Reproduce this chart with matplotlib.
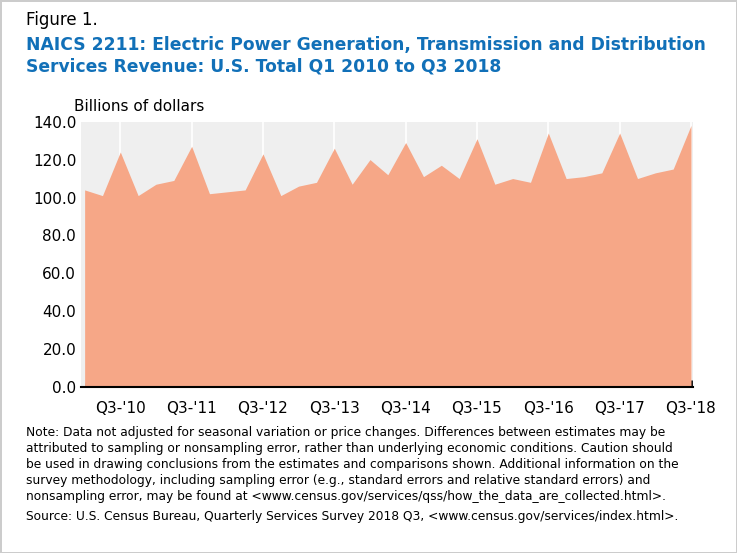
import numpy as np
import matplotlib.pyplot as plt

quarters = [f"Q{q}-'{y % 100:02d}" for y in range(2010, 2019) for q in range(1, 5)][:35]
revenue = [104, 101, 124, 101, 107, 109, 127, 102, 103, 104, 123, 101,
           106, 108, 126, 107, 120, 112, 129, 111, 117, 110, 131, 107,
           110, 108, 134, 110, 111, 113, 134, 110, 113, 115, 138]
yticks = [0, 20, 40, 60, 80, 100, 120, 140]

fig = plt.figure(figsize=(7.37, 5.53), dpi=100)
fig.patch.set_edgecolor('#cccccc')
fig.patch.set_linewidth(2)
ax = fig.add_axes([0.11, 0.30, 0.83, 0.48])

x = np.arange(len(revenue))
ax.set_facecolor('#efefef')
ax.fill_between(x, revenue, color='#f6a787', lw=0, zorder=2)
q3 = [i for i, q in enumerate(quarters) if q.startswith('Q3')]
for i in q3:
    ax.axvline(i, color='white', lw=1.2, zorder=1)
ax.set_xlim(-0.2, len(revenue) - 0.9)
ax.set_ylim(0, 140)
ax.set_yticks(yticks)
ax.set_yticklabels([f"{v:.1f}" for v in yticks], fontsize=11)
ax.set_xticks(q3)
ax.set_xticklabels([quarters[i] for i in q3], fontsize=11)
ax.set_xticks(x, minor=True)
ax.tick_params(axis='x', which='major', length=5, width=2, color='black', direction='in', pad=10)
ax.tick_params(axis='x', which='minor', length=3, color='#999999', direction='in')
ax.tick_params(axis='y', length=0)
for s in ['top', 'right', 'left']:
    ax.spines[s].set_visible(False)
ax.spines['bottom'].set_color('black')
ax.spines['bottom'].set_linewidth(1.5)

fig.text(0.035, 0.955, "Figure 1.", fontsize=12)
fig.text(0.035, 0.87, "NAICS 2211: Electric Power Generation, Transmission and Distribution\n"
         "Services Revenue: U.S. Total Q1 2010 to Q3 2018",
         fontsize=12.3, fontweight='bold', color='#1170b8', linespacing=1.3)
fig.text(0.1, 0.80, "Billions of dollars", fontsize=11)
fig.text(0.035, 0.095,
         "Note: Data not adjusted for seasonal variation or price changes. Differences between estimates may be\n"
         "attributed to sampling or nonsampling error, rather than underlying economic conditions. Caution should\n"
         "be used in drawing conclusions from the estimates and comparisons shown. Additional information on the\n"
         "survey methodology, including sampling error (e.g., standard errors and relative standard errors) and\n"
         "nonsampling error, may be found at <www.census.gov/services/qss/how_the_data_are_collected.html>.",
         fontsize=8.8, linespacing=1.3)
fig.text(0.035, 0.06,
         "Source: U.S. Census Bureau, Quarterly Services Survey 2018 Q3, <www.census.gov/services/index.html>.",
         fontsize=8.8)
fig.savefig('out.png', edgecolor=fig.get_edgecolor())
